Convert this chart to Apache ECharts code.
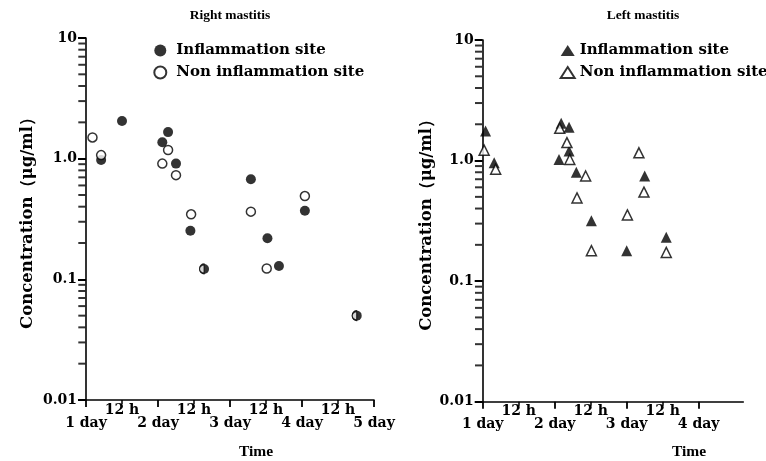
<!DOCTYPE html>
<html><head><meta charset="utf-8">
<script src="https://cdn.jsdelivr.net/npm/echarts@6/dist/echarts.min.js"></script>
<style>html,body{margin:0;padding:0;background:#fff}#c{width:766px;height:461px}</style>
</head><body><div id="c"></div>
<script>
// Data: [day, concentration µg/ml]
const rightMastitisInflamed = [[1.21,0.975],[1.50,2.05],[2.06,1.37],[2.14,1.66],[2.25,0.91],[2.45,0.253],[2.64,0.122],[3.29,0.675],[3.52,0.219],[3.68,0.129],[4.04,0.37],[4.76,0.05]];
const rightMastitisNon = [[1.09,1.50],[1.21,1.07],[2.06,0.91],[2.14,1.18],[2.25,0.73],[2.46,0.346],[2.64,0.122],[3.29,0.364],[3.51,0.123],[4.04,0.49],[4.76,0.05]];
const leftMastitisInflamed = [[1.04,1.76],[1.16,0.96],[2.06,1.02],[2.09,2.04],[2.20,1.89],[2.20,1.20],[2.30,0.80],[2.51,0.317],[3.00,0.179],[3.25,0.745],[3.55,0.231]];
const leftMastitisNon = [[1.02,1.22],[1.18,0.847],[2.07,1.85],[2.17,1.41],[2.21,1.02],[2.43,0.745],[2.31,0.49],[2.51,0.179],[3.01,0.354],[3.17,1.16],[3.24,0.548],[3.55,0.173]];
const panelTitles = ['Right mastitis', 'Left mastitis'];
const legendNames = ['Inflammation site', 'Non inflammation site'];
const dayTicksRight = [1,2,3,4,5];
const halfTicksRight = [1.5,2.5,3.5,4.5];
const dayTicksLeft = [1,2,3,4];
const halfTicksLeft = [1.5,2.5,3.5];
const yLabels = {'1':'10','0':'1.0','-1':'0.1','-2':'0.01'};
const yName = 'Concentration（μg/ml）';
const xName = 'Time';

const minorVals = [];
[-2,-1,0].forEach(k => { for (let m = 2; m <= 9; m++) minorVals.push(m * Math.pow(10, k)); });

const SERIF = 'DejaVu Serif';
const txt = {color:'#000', fontFamily:SERIF, fontWeight:'bold'};

function dayAxis(g, max, ticks) {
  return {
    type:'value', gridIndex:g, min:1, max:max, position:'bottom',
    axisLine:{show:true, onZero:false, lineStyle:{color:'#000', width:1.6}},
    axisTick:{show:true, customValues:ticks, length:7, lineStyle:{color:'#000', width:1.8}},
    splitLine:{show:false},
    axisLabel:{customValues:ticks, margin:16, showMinLabel:true, showMaxLabel:true, ...txt, fontSize:14,
      formatter: v => Math.round(v) + ' day'}
  };
}
function halfAxis(g, max, ticks) {
  return {
    type:'value', gridIndex:g, min:1, max:max, position:'bottom', offset:0,
    axisLine:{show:false, onZero:false},
    axisTick:{show:true, customValues:ticks, length:4, lineStyle:{color:'#000', width:1.5}},
    splitLine:{show:false},
    axisLabel:{customValues:ticks, margin:3, showMinLabel:true, showMaxLabel:true, ...txt, fontSize:14,
      formatter: () => '12 h'}
  };
}
function yAxis(g, gap) {
  return {
    type:'log', logBase:10, gridIndex:g, min:0.01, max:10,
    axisLine:{show:true, lineStyle:{color:'#000', width:1.6}},
    axisTick:{show:true, length:8, lineStyle:{color:'#000', width:2}},
    splitLine:{show:false}, minorTick:{show:false},
    axisLabel:{...txt, fontSize:14, margin:9, showMinLabel:true, showMaxLabel:true,
      formatter: v => yLabels[String(Math.round(Math.log10(v)))] || ''},
    name:yName, nameLocation:'middle', nameGap:gap, nameRotate:90,
    nameTextStyle:{...txt, fontSize:16.5}
  };
}
function minorTickSeries(name, xi, yi) {
  return {name:name, type:'scatter', xAxisIndex:xi, yAxisIndex:yi, clip:false, z:8,
    symbol:'rect', symbolSize:[7,2], symbolOffset:[-4.2,0], itemStyle:{color:'#000'},
    emphasis:{disabled:true}, tooltip:{show:false},
    data:minorVals.map(v => [1, v])};
}
const halfPath = 'path://M10,0 A10,10 0 0 0 10,20 Z';
function openData(open, filled) {
  return open.map(p => {
    const same = filled.some(q => q[0] === p[0] && q[1] === p[1]);
    return same ? {value:p, symbol:halfPath, symbolSize:[4.5,9], symbolOffset:[-2.25,0]} : p;
  });
}

const chart = echarts.init(document.getElementById('c'), null, {renderer:'canvas'});
chart.setOption({
  animation:false,
  backgroundColor:'#fff',
  grid:[
    {left:86, top:38, width:288, height:362, outerBoundsMode:'none'},
    {left:482.7, top:40, width:260.6, height:361.7, outerBoundsMode:'none'}
  ],
  xAxis:[dayAxis(0, 5, dayTicksRight), halfAxis(0, 5, halfTicksRight),
         dayAxis(1, 4.62, dayTicksLeft), halfAxis(1, 4.62, halfTicksLeft)],
  yAxis:[yAxis(0, 50), yAxis(1, 47)],
  legend:[
    {orient:'vertical', left:148.3, top:36.5, itemWidth:22, itemHeight:12, itemGap:4,
     data:legendNames, textStyle:{...txt, fontSize:15, lineHeight:18}, selectedMode:false},
    {orient:'vertical', left:554.7, top:36.5, itemWidth:14, itemHeight:11, itemGap:4,
     data:legendNames.map(n => n + ' '), textStyle:{...txt, fontSize:15, lineHeight:18}, selectedMode:false}
  ],
  graphic:[
    {type:'text', x:230, y:16, style:{text:panelTitles[0], align:'center', verticalAlign:'middle', font:'bold 13.5px "Liberation Serif"', fill:'#000'}},
    {type:'text', x:643, y:16, style:{text:panelTitles[1], align:'center', verticalAlign:'middle', font:'bold 13.5px "Liberation Serif"', fill:'#000'}},
    {type:'text', x:256, y:452, style:{text:xName, align:'center', verticalAlign:'middle', font:'bold 15.5px "Liberation Serif"', fill:'#000'}},
    {type:'text', x:689, y:452, style:{text:xName, align:'center', verticalAlign:'middle', font:'bold 15.5px "Liberation Serif"', fill:'#000'}}
  ],
  series:[
    {name:legendNames[0], type:'scatter', xAxisIndex:0, yAxisIndex:0, symbol:'circle', symbolSize:10,
     itemStyle:{color:'#000'}, data:rightMastitisInflamed, z:3},
    {name:legendNames[1], type:'scatter', xAxisIndex:0, yAxisIndex:0, symbol:'circle', symbolSize:9,
     itemStyle:{color:'#fff', borderColor:'#000', borderWidth:1.5}, data:openData(rightMastitisNon, rightMastitisInflamed), z:4},
    {name:legendNames[0] + ' ', type:'scatter', xAxisIndex:2, yAxisIndex:1, symbol:'triangle', symbolSize:11,
     itemStyle:{color:'#000'}, data:leftMastitisInflamed, z:3},
    {name:legendNames[1] + ' ', type:'scatter', xAxisIndex:2, yAxisIndex:1, symbol:'triangle', symbolSize:10,
     itemStyle:{color:'#fff', borderColor:'#000', borderWidth:1.5}, data:leftMastitisNon, z:4},
    minorTickSeries('minorTicksA', 0, 0), minorTickSeries('minorTicksB', 2, 1)
  ]
});
</script></body></html>
